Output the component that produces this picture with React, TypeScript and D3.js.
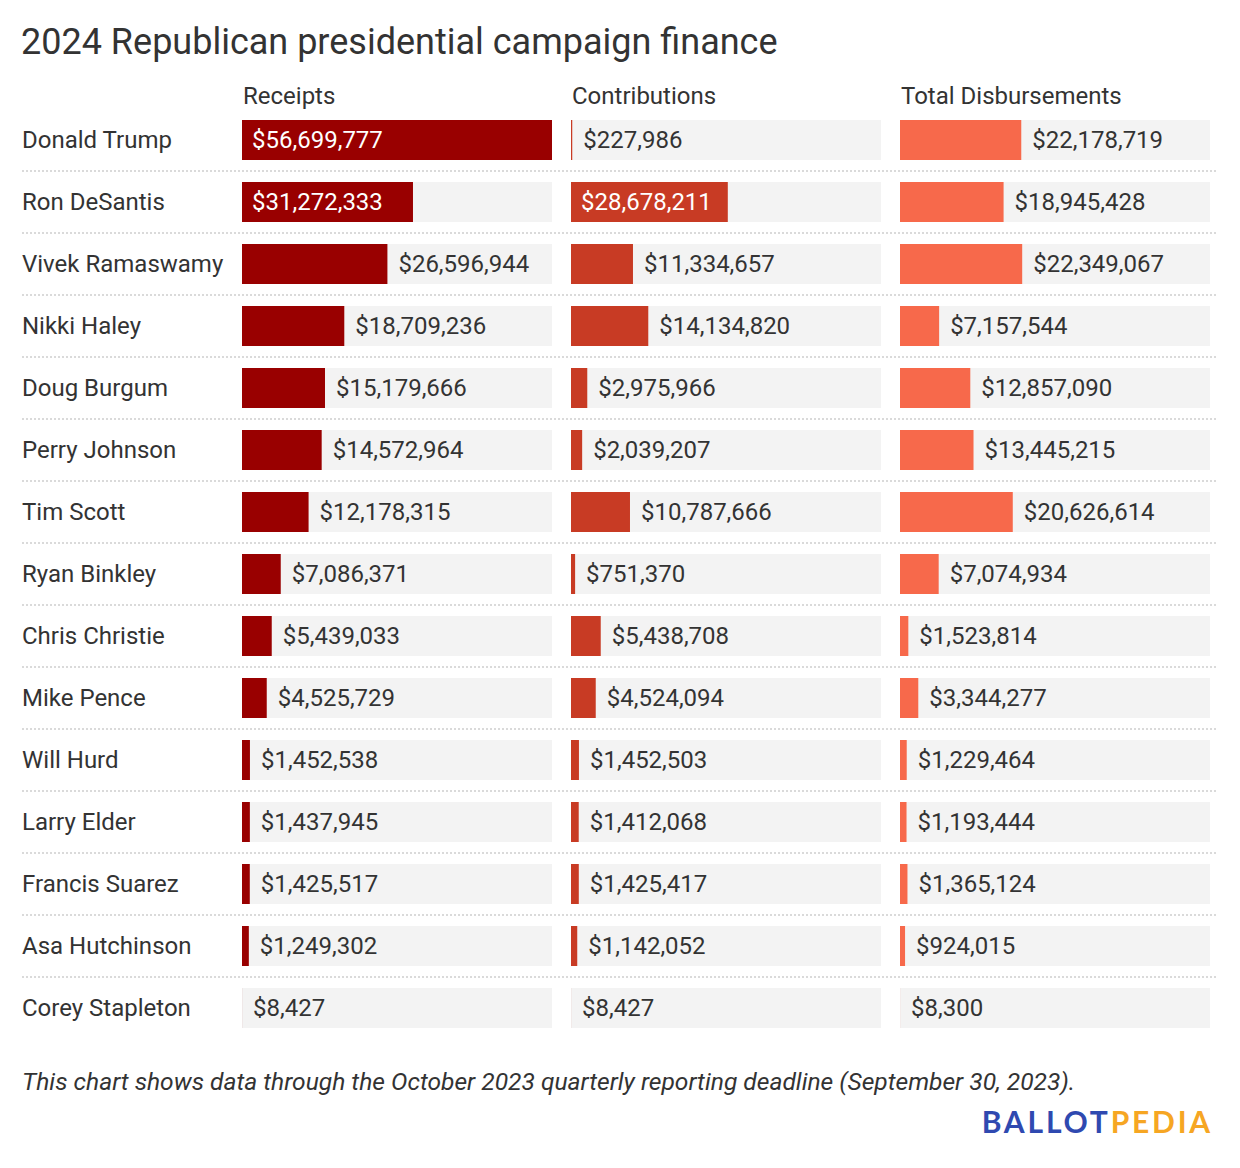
import { useEffect, useRef } from "react";
import * as d3 from "d3";

const candidates = [
  "Donald Trump",
  "Ron DeSantis",
  "Vivek Ramaswamy",
  "Nikki Haley",
  "Doug Burgum",
  "Perry Johnson",
  "Tim Scott",
  "Ryan Binkley",
  "Chris Christie",
  "Mike Pence",
  "Will Hurd",
  "Larry Elder",
  "Francis Suarez",
  "Asa Hutchinson",
  "Corey Stapleton",
];

const columns = ["Receipts", "Contributions", "Total Disbursements"];
const colColors = ["#990000", "#c83b24", "#f7694b"];

const receipts = [
  56699777, 31272333, 26596944, 18709236, 15179666, 14572964, 12178315,
  7086371, 5439033, 4525729, 1452538, 1437945, 1425517, 1249302, 8427,
];
const contributions = [
  227986, 28678211, 11334657, 14134820, 2975966, 2039207, 10787666, 751370,
  5438708, 4524094, 1452503, 1412068, 1425417, 1142052, 8427,
];
const disbursements = [
  22178719, 18945428, 22349067, 7157544, 12857090, 13445215, 20626614,
  7074934, 1523814, 3344277, 1229464, 1193444, 1365124, 924015, 8300,
];

const title = "2024 Republican presidential campaign finance";
const note =
  "This chart shows data through the October 2023 quarterly reporting deadline (September 30, 2023).";

const W = 1240;
const H = 1168;
const FONT = "Roboto, 'Noto Sans', sans-serif";
const TEXT = "#333333";

export default function App() {
  const ref = useRef<SVGSVGElement>(null);

  useEffect(() => {
    const svg = d3.select(ref.current);
    svg.selectAll("*").remove();

    const series = [receipts, contributions, disbursements];
    const maxVal = d3.max(series.flat()) as number;

    // columns: 310 wide, 19 gap
    const colX = d3
      .scaleBand<string>()
      .domain(columns)
      .range([242, 242 + 329 * 3 - 19])
      .paddingInner(19 / 329)
      .paddingOuter(0);
    const bw = colX.bandwidth();
    const x = d3.scaleLinear().domain([0, maxVal]).range([0, bw]);

    // rows: 40 tall, 62 step
    const y = d3
      .scaleBand<string>()
      .domain(candidates)
      .range([120, 120 + 62 * candidates.length - 22])
      .paddingInner(22 / 62)
      .paddingOuter(0);
    const step = y.step();
    const bh = y.bandwidth();

    svg
      .append("text")
      .attr("x", 21)
      .attr("y", 54)
      .attr("font-size", 36)
      .attr("fill", TEXT)
      .text(title);

    svg
      .append("g")
      .selectAll("text")
      .data(columns)
      .join("text")
      .attr("x", (d) => (colX(d) as number) + 1)
      .attr("y", 104)
      .attr("font-size", 24)
      .attr("fill", TEXT)
      .text((d) => d);

    // dotted dividers
    svg
      .append("g")
      .selectAll("line")
      .data(candidates.slice(0, -1))
      .join("line")
      .attr("x1", 22)
      .attr("x2", 1218)
      .attr("y1", (d) => (y(d) as number) + bh + 11)
      .attr("y2", (d) => (y(d) as number) + bh + 11)
      .attr("stroke", "#dadada")
      .attr("stroke-width", 2)
      .attr("stroke-dasharray", "2 2");

    const rows = svg
      .append("g")
      .selectAll("g")
      .data(candidates)
      .join("g")
      .attr("transform", (d) => `translate(0,${y(d)})`);

    rows
      .append("text")
      .attr("x", 22)
      .attr("y", bh / 2)
      .attr("dy", "0.35em")
      .attr("font-size", 24)
      .attr("fill", TEXT)
      .text((d) => d);

    const fmt = (v: number) => "$" + d3.format(",")(v);

    columns.forEach((col, ci) => {
      const cx = colX(col) as number;
      const g = rows.append("g").attr("transform", `translate(${cx},0)`);
      g.append("rect")
        .attr("width", bw)
        .attr("height", bh)
        .attr("fill", "#f3f3f3");
      g.append("rect")
        .attr("width", (_, i) => x(series[ci][i]))
        .attr("height", bh)
        .attr("fill", colColors[ci]);
      g.append("text")
        .attr("y", bh / 2)
        .attr("dy", "0.35em")
        .attr("font-size", 24)
        .each(function (_, i) {
          const t = d3.select(this).text(fmt(series[ci][i]));
          const tw = (this as SVGTextElement).getComputedTextLength();
          const w = x(series[ci][i]);
          if (w >= tw + 20) {
            t.attr("x", 10).attr("fill", "#ffffff");
          } else {
            t.attr("x", w + 11).attr("fill", TEXT);
          }
        });
    });

    const lastY = (y(candidates[candidates.length - 1]) as number) + step;

    svg
      .append("text")
      .attr("x", 22)
      .attr("y", lastY + 40)
      .attr("font-size", 24.6)
      .attr("font-style", "italic")
      .attr("fill", TEXT)
      .text(note);

    const logo = svg
      .append("text")
      .attr("x", 1213)
      .attr("y", 1133)
      .attr("text-anchor", "end")
      .attr("font-size", 30)
      .attr("font-weight", "bold")
      .attr("letter-spacing", 2.8)
      .attr("font-family", "Lato, 'Open Sans', sans-serif");
    logo.append("tspan").attr("fill", "#2f49b0").text("BALLOT");
    logo.append("tspan").attr("fill", "#f6a623").text("PEDIA");
  }, []);

  return (
    <svg
      ref={ref}
      width={W}
      height={H}
      style={{ display: "block", position: "absolute", left: 0, top: 0, fontFamily: FONT, background: "#fff" }}
    />
  );
}
